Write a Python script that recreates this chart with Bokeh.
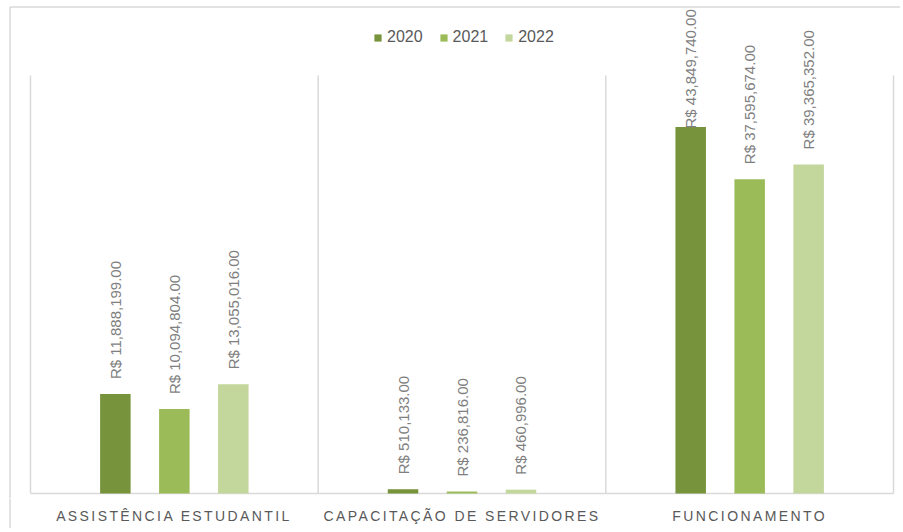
import math
from bokeh.plotting import figure
from bokeh.layouts import column
from bokeh.models import Range1d, ColumnDataSource, Legend, LegendItem, InlineStyleSheet
from bokeh.core.properties import value
from bokeh.embed import file_html
from bokeh.resources import INLINE

# ---- data ----
categories = ["ASSISTÊNCIA ESTUDANTIL", "CAPACITAÇÃO DE SERVIDORES", "FUNCIONAMENTO"]
years = ["2020", "2021", "2022"]
values_2020 = [11888199.00, 510133.00, 43849740.00]
values_2021 = [10094804.00, 236816.00, 37595674.00]
values_2022 = [13055016.00, 460996.00, 39365352.00]
series = [values_2020, values_2021, values_2022]
colors = ["#77933C", "#9BBB59", "#C3D69B"]

# ---- layout constants (pixels) ----
W = 900
H_MAIN = 498
H_CAT = 30
PA_LEFT, PA_RIGHT, PA_TOP, PA_BOTTOM = 30, 893, 75, 493
BORDER_X, BORDER_Y = 9.5, 6.5
AXIS_MAX = 50_000_000
LABEL_GAP = 15
LABEL_LEN = 116
CHART_TOP = 12
LETTER_SPACING = 2.4
FONT = "Liberation Sans"
LINE_COLOR = "#D9D9D9"

n = len(categories)
unit_x = (PA_RIGHT - PA_LEFT) / n
ppm = (PA_BOTTOM - PA_TOP) / AXIS_MAX
x_range = Range1d(-PA_LEFT / unit_x, (W - PA_LEFT) / unit_x)
y_range = Range1d(-(H_MAIN - PA_BOTTOM) / ppm, AXIS_MAX + PA_TOP / ppm)

p = figure(width=W, height=H_MAIN, x_range=x_range, y_range=y_range,
           output_backend="svg", toolbar_location=None, min_border=0,
           x_axis_location=None, y_axis_location=None,
           outline_line_color=None, background_fill_color="white",
           border_fill_color="white")
p.grid.visible = False

# plot area lines
p.segment(x0=list(range(n + 1)), y0=[0] * (n + 1), x1=list(range(n + 1)),
          y1=[AXIS_MAX] * (n + 1), line_color=LINE_COLOR, line_width=1.5)
p.segment(x0=[0], y0=[0], x1=[n], y1=[0], line_color=LINE_COLOR, line_width=1.5)
# chart border (left and top)
bx = x_range.start + BORDER_X / unit_x
by = (PA_BOTTOM - BORDER_Y) / ppm
p.segment(x0=[bx], y0=[y_range.start], x1=[bx], y1=[by],
          line_color=LINE_COLOR, line_width=1.5)
p.segment(x0=[bx], y0=[by], x1=[x_range.end], y1=[by],
          line_color=LINE_COLOR, line_width=1.5)

offsets = [-0.205, 0.0, 0.205]
bar_w = 30.5 / unit_x
items = []
for j, (yr, vals, col) in enumerate(zip(years, series, colors)):
    xs = [i + 0.5 + offsets[j] for i in range(n)]
    labels = [f"R$ {v:,.2f}" for v in vals]
    label_y = []
    for v in vals:
        top_px = PA_BOTTOM - v * ppm
        start_px = max(top_px - LABEL_GAP, CHART_TOP + LABEL_LEN)
        label_y.append((PA_BOTTOM - start_px) / ppm)
    src = ColumnDataSource(dict(x=xs, top=vals, label=labels, ly=label_y))
    r = p.vbar(x="x", top="top", width=bar_w, fill_color=col, line_color=None, source=src)
    p.text(x="x", y="ly", text="label", angle=math.pi / 2, text_align="left",
           text_baseline="middle", text_font=value(FONT), text_font_size="15px",
           text_color="#7F7F7F", source=src)
    items.append(LegendItem(label=yr, renderers=[r]))

legend = Legend(items=items, orientation="horizontal", location=(373, 452),
                glyph_width=9, glyph_height=9, label_standoff=5, spacing=16,
                padding=0, margin=0, border_line_color=None,
                background_fill_alpha=0, label_text_font=FONT,
                label_text_font_size="16px", label_text_color="#595959")
p.add_layout(legend)

# category labels (letter-spaced, as in the original)
pc = figure(width=W, height=H_CAT, x_range=x_range, y_range=Range1d(0, H_CAT),
            output_backend="svg", toolbar_location=None, min_border=0,
            x_axis_location=None, y_axis_location=None,
            outline_line_color=None, background_fill_color="white",
            border_fill_color="white",
            stylesheets=[InlineStyleSheet(css=":host { letter-spacing: %.1fpx; }" % LETTER_SPACING)])
pc.grid.visible = False
cat_src = ColumnDataSource(dict(
    x=[i + 0.5 for i in range(n)],
    y=[H_CAT - 17] * n,
    text=categories,
    xo=[-len(c) * LETTER_SPACING / 2 for c in categories],
))
pc.text(x="x", y="y", text="text", x_offset="xo", source=cat_src,
        text_align="center", text_baseline="middle", text_font=value(FONT),
        text_font_size="14px", text_color="#595959")
pc.segment(x0=[bx], y0=[0], x1=[bx], y1=[H_CAT], line_color=LINE_COLOR, line_width=1.5)

layout = column(p, pc, spacing=0)
open("out.html", "w").write(file_html(layout, INLINE))
